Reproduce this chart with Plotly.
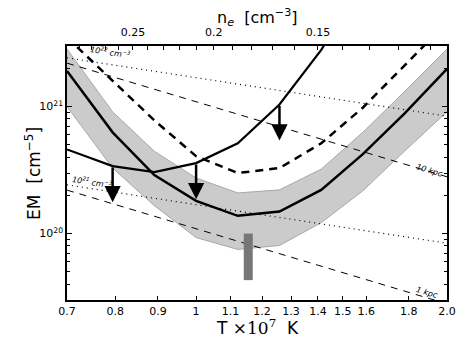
import numpy as np
import plotly.graph_objects as go

# temperature grid (x 10^7 K)
T = [0.7, 0.794, 0.891, 1.0, 1.122, 1.259, 1.413, 1.585, 1.778, 2.0]

# emission measure curves (cm^-5)
em_mid = [1.91e21, 6.27e20, 2.89e20, 1.81e20, 1.38e20, 1.49e20, 2.21e20, 4.22e20, 8.8e20, 1.98e21]
em_hi = [2.84e21, 9.1e20, 4.45e20, 2.74e20, 2.09e20, 2.21e20, 3.22e20, 6.27e20, 1.31e21, 2.84e21]
em_lo = [1.0e21, 3.28e20, 1.66e20, 9.3e19, 7.5e19, 8.06e19, 1.22e20, 2.17e20, 4.45e20, 9.1e20]
em_dash = [3.5e21, 1.6e21, 7.8e20, 4.07e20, 3.0e20, 3.28e20, 5.14e20, 9.8e20, 2.09e21, 4.6e21]

T_lim = [0.7, 0.794, 0.891, 1.0, 1.122, 1.259, 1.413, 1.585]
em_lim = [4.6e20, 3.4e20, 3.05e20, 3.59e20, 5.14e20, 1.04e21, 2.79e21, 1.0e22]
arrow_idx = [1, 3, 5]
arrow_fac = 0.52

# reference lines
T_ends = [0.7, 2.0]
dot_22 = [2.42e21, 8.4e20]
dot_21 = [2.42e20, 8.4e19]
kpc_10 = [2.2e21, 2.8e20]
kpc_1 = [2.2e20, 2.8e19]

# measurement bar
bar_T = [1.155, 1.155]
bar_em = [4.3e19, 1.0e20]

# top axis: n_e = P / T
P = 0.21
ne_ticks = [0.29, 0.28, 0.27, 0.26, 0.25, 0.24, 0.23, 0.22, 0.21, 0.2,
            0.19, 0.18, 0.17, 0.16, 0.15, 0.14, 0.13, 0.12, 0.11]
ne_labels = {0.25: "0.25", 0.2: "0.2", 0.15: "0.15"}

xt = [0.7, 0.8, 0.9, 1.0, 1.1, 1.2, 1.3, 1.4, 1.5, 1.6, 1.8, 2.0]
xt_text = ["0.7", "0.8", "0.9", "1", "1.1", "1.2", "1.3", "1.4", "1.5", "1.6", "1.8", "2.0"]

fig = go.Figure()

fig.add_trace(go.Scatter(x=T, y=em_hi, mode="lines", line=dict(color="#a8a8a8", width=1)))
fig.add_trace(go.Scatter(x=T, y=em_lo, mode="lines", line=dict(color="#a8a8a8", width=1),
                         fill="tonexty", fillcolor="#cbcbcb"))

for xs, ys in [(T_ends, dot_22), (T_ends, dot_21)]:
    fig.add_trace(go.Scatter(x=xs, y=ys, mode="lines", line=dict(color="black", width=1.2, dash="1px,4px")))
for xs, ys in [(T_ends, kpc_10), (T_ends, kpc_1)]:
    fig.add_trace(go.Scatter(x=xs, y=ys, mode="lines", line=dict(color="black", width=1, dash="7px,6px")))

fig.add_trace(go.Scatter(x=bar_T, y=bar_em, mode="lines", line=dict(color="#777777", width=9)))

fig.add_trace(go.Scatter(x=T, y=em_mid, mode="lines", line=dict(color="black", width=2.5)))
fig.add_trace(go.Scatter(x=T, y=em_dash, mode="lines", line=dict(color="black", width=2.5, dash="8px,6px")))
fig.add_trace(go.Scatter(x=T_lim, y=em_lim, mode="lines", line=dict(color="black", width=2.2)))

# dummy trace for the top axis
fig.add_trace(go.Scatter(x=T_ends, y=[1e20, 1e20], xaxis="x2", mode="markers",
                         marker=dict(opacity=0), hoverinfo="skip"))

ann = []
for i in arrow_idx:
    ann.append(dict(x=np.log10(T_lim[i]), y=np.log10(em_lim[i] * arrow_fac), xref="x", yref="y",
                    ax=np.log10(T_lim[i]), ay=np.log10(em_lim[i]), axref="x", ayref="y",
                    showarrow=True, arrowhead=2, arrowsize=1.3, arrowwidth=2.5, arrowcolor="black", text=""))

lab_font = dict(family="DejaVu Sans", size=8, color="black")
ann += [
    dict(x=np.log10(0.79), y=21.43, xref="x", yref="y", text="<i>10<sup>22</sup> cm<sup>−3</sup></i>",
         showarrow=False, textangle=9, font=lab_font),
    dict(x=np.log10(0.752), y=20.41, xref="x", yref="y", text="<i>10<sup>21</sup> cm<sup>−3</sup></i>",
         showarrow=False, textangle=9, font=lab_font),
    dict(x=np.log10(1.905), y=20.50, xref="x", yref="y", text="<i>10 kpc</i>",
         showarrow=False, textangle=17, font=lab_font),
    dict(x=np.log10(1.89), y=19.54, xref="x", yref="y", text="<i>1 kpc</i>",
         showarrow=False, textangle=17, font=lab_font),
    # axis titles placed by hand
    dict(x=0.5, y=-0.105, xref="paper", yref="paper", yanchor="middle", showarrow=False,
         text="T <span style='font-family:DejaVu Serif'>×10<sup>7</sup></span>  K",
         font=dict(family="DejaVu Sans", size=17, color="black")),
    dict(x=0.5, y=1.112, xref="paper", yref="paper", yanchor="middle", showarrow=False,
         text="n<sub><i>e</i></sub>  [cm<sup>−3</sup>]",
         font=dict(family="DejaVu Sans", size=16, color="black")),
    dict(x=-0.124, y=0.5, xref="paper", yref="paper", showarrow=False, textangle=-90,
         text="EM  [cm<sup>−5</sup>]",
         font=dict(family="DejaVu Sans", size=17, color="black")),
]

axfont = dict(family="DejaVu Sans", size=11, color="black")

fig.update_layout(
    width=464, height=348,
    margin=dict(l=67, r=17, t=46, b=48),
    paper_bgcolor="white", plot_bgcolor="white",
    showlegend=False,
    annotations=ann,
    xaxis=dict(type="log", range=[np.log10(0.7), np.log10(2.0)], automargin=False,
               tickvals=xt, ticktext=xt_text, ticks="inside", ticklen=4, tickcolor="black",
               showline=True, linecolor="black", linewidth=1.5, showgrid=False, zeroline=False,
               tickfont=axfont, ticklabelstandoff=0),
    xaxis2=dict(type="log", overlaying="x", side="top", range=[np.log10(0.7), np.log10(2.0)],
                automargin=False,
                tickvals=[P / n for n in ne_ticks],
                ticktext=[ne_labels.get(n, "") for n in ne_ticks],
                ticks="inside", ticklen=4, tickcolor="black",
                showline=True, linecolor="black", linewidth=1.5, showgrid=False, zeroline=False,
                tickfont=axfont, ticklabelstandoff=4),
    yaxis=dict(type="log", range=[np.log10(3e19), np.log10(3e21)], automargin=False,
               tickvals=[1e20, 1e21], ticktext=["10<sup>20</sup>", "10<sup>21</sup>"],
               ticks="inside", ticklen=5, tickcolor="black", mirror="ticks",
               showline=True, linecolor="black", linewidth=1.5, showgrid=False, zeroline=False,
               tickfont=axfont,
               minor=dict(ticks="inside", ticklen=3, tickcolor="black",
                          tickvals=[k * 1e19 for k in range(3, 10)] + [k * 1e20 for k in range(2, 10)]
                          + [2e21, 3e21])),
)

# drop the default page margin so the figure sits at the window corner
fig.write_html("out.html", config={"displayModeBar": False},
               post_script="document.body.style.margin='0px';")
